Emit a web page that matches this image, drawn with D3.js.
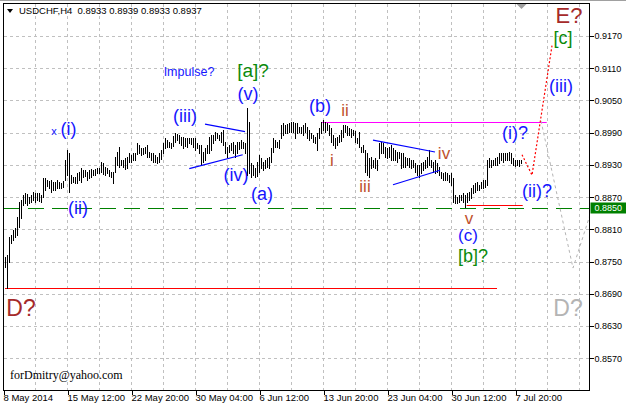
<!DOCTYPE html>
<html><head><meta charset="utf-8">
<script src="https://d3js.org/d3.v7.min.js"></script>
<style>body{margin:0;background:#fff}svg{display:block}</style>
</head><body><script>
// ---------- data ----------
const symbolTitle = "USDCHF,H4  0.8933 0.8939 0.8933 0.8937";
const firstBarIndex = 1;
const highs = [
0.8759,0.8762,0.8796,0.8800,0.8809,0.8813,0.8833,0.8861,0.8865,0.8874,
0.8878,0.8876,0.8870,0.8874,0.8880,0.8878,0.8878,0.8878,0.8874,0.8906,
0.8906,0.8902,0.8900,0.8902,0.8898,0.8898,0.8902,0.8898,0.8897,0.8900,
0.8939,0.8958,0.8952,0.8911,0.8908,0.8908,0.8915,0.8917,0.8924,0.8921,
0.8921,0.8917,0.8921,0.8923,0.8921,0.8923,0.8924,0.8924,0.8936,0.8934,
0.8926,0.8924,0.8921,0.8917,0.8917,0.8945,0.8954,0.8964,0.8939,0.8939,
0.8943,0.8945,0.8952,0.8949,0.8952,0.8952,0.8971,0.8967,0.8962,0.8962,
0.8964,0.8967,0.8954,0.8952,0.8952,0.8949,0.8945,0.8952,0.8958,0.8971,
0.8980,0.8977,0.8973,0.8971,0.8984,0.8990,0.8988,0.8986,0.8982,0.8982,
0.8980,0.8980,0.8980,0.8980,0.8980,0.8980,0.8971,0.8967,0.8967,0.8954,
0.8962,0.8967,0.8982,0.8986,0.8986,0.8992,0.8990,0.8986,0.8992,0.8995,
0.8973,0.8964,0.8967,0.8971,0.8973,0.8967,0.8973,0.8973,0.8977,0.8973,
0.8971,0.9036,0.9010,0.8934,0.8930,0.8924,0.8936,0.8949,0.8943,0.8936,
0.8939,0.8943,0.8945,0.8962,0.8980,0.8977,0.8973,0.8977,0.9005,0.9008,
0.9005,0.9006,0.9008,0.9010,0.9010,0.9008,0.9008,0.9001,0.9001,0.9005,
0.9008,0.9001,0.8995,0.8990,0.8986,0.8982,0.8990,0.8999,0.9010,0.9014,
0.9010,0.9008,0.9005,0.8999,0.8986,0.8980,0.8982,0.8986,0.8995,0.9005,
0.9005,0.9003,0.8999,0.8997,0.8995,0.8993,0.8980,0.8992,0.8964,0.8967,
0.8958,0.8952,0.8943,0.8945,0.8939,0.8943,0.8939,0.8971,0.8973,0.8971,
0.8964,0.8962,0.8964,0.8967,0.8962,0.8958,0.8954,0.8954,0.8952,0.8952,
0.8945,0.8943,0.8943,0.8939,0.8939,0.8934,0.8930,0.8930,0.8934,0.8936,
0.8939,0.8945,0.8958,0.8939,0.8936,0.8939,0.8934,0.8926,0.8917,0.8915,
0.8917,0.8915,0.8911,0.8915,0.8906,0.8874,0.8870,0.8874,0.8874,0.8878,
0.8874,0.8878,0.8880,0.8887,0.8893,0.8897,0.8898,0.8893,0.8898,0.8902,
0.8902,0.8939,0.8943,0.8939,0.8939,0.8943,0.8945,0.8952,0.8952,0.8952,
0.8952,0.8952,0.8954,0.8952,0.8943,0.8939,0.8939,0.8939,0.8939];
const lows = [
0.8740,0.8700,0.8750,0.8785,0.8790,0.8796,0.8800,0.8815,0.8831,0.8856,
0.8859,0.8856,0.8859,0.8861,0.8865,0.8861,0.8865,0.8863,0.8861,0.8870,
0.8884,0.8891,0.8887,0.8880,0.8884,0.8884,0.8887,0.8887,0.8887,0.8889,
0.8902,0.8911,0.8880,0.8897,0.8898,0.8897,0.8897,0.8902,0.8898,0.8908,
0.8910,0.8902,0.8906,0.8908,0.8911,0.8911,0.8915,0.8915,0.8917,0.8913,
0.8911,0.8915,0.8910,0.8908,0.8897,0.8917,0.8930,0.8926,0.8930,0.8926,
0.8923,0.8924,0.8936,0.8936,0.8939,0.8939,0.8951,0.8952,0.8949,0.8951,
0.8952,0.8945,0.8945,0.8939,0.8936,0.8936,0.8934,0.8936,0.8941,0.8952,
0.8962,0.8964,0.8964,0.8962,0.8965,0.8973,0.8977,0.8971,0.8967,0.8962,
0.8965,0.8964,0.8971,0.8969,0.8964,0.8958,0.8962,0.8952,0.8930,0.8936,
0.8939,0.8952,0.8952,0.8958,0.8971,0.8977,0.8980,0.8977,0.8973,0.8967,
0.8952,0.8945,0.8954,0.8958,0.8952,0.8945,0.8952,0.8960,0.8962,0.8962,
0.8952,0.8911,0.8915,0.8908,0.8911,0.8908,0.8910,0.8917,0.8924,0.8921,
0.8924,0.8926,0.8924,0.8936,0.8954,0.8964,0.8964,0.8962,0.8980,0.8986,
0.8990,0.8990,0.8992,0.8992,0.8992,0.8980,0.8990,0.8992,0.8990,0.8986,
0.8992,0.8980,0.8977,0.8980,0.8973,0.8971,0.8958,0.8980,0.8990,0.8995,
0.8992,0.8995,0.8986,0.8973,0.8967,0.8962,0.8967,0.8973,0.8975,0.8982,
0.8992,0.8986,0.8986,0.8982,0.8986,0.8973,0.8971,0.8964,0.8954,0.8954,
0.8917,0.8911,0.8908,0.8924,0.8926,0.8924,0.8921,0.8943,0.8952,0.8952,
0.8945,0.8943,0.8945,0.8939,0.8939,0.8939,0.8936,0.8943,0.8924,0.8926,
0.8926,0.8930,0.8926,0.8924,0.8926,0.8917,0.8911,0.8908,0.8915,0.8921,
0.8924,0.8926,0.8930,0.8926,0.8917,0.8915,0.8917,0.8911,0.8906,0.8902,
0.8902,0.8902,0.8898,0.8893,0.8861,0.8859,0.8859,0.8861,0.8865,0.8861,
0.8852,0.8861,0.8865,0.8869,0.8878,0.8880,0.8884,0.8884,0.8887,0.8887,
0.8889,0.8893,0.8926,0.8926,0.8930,0.8930,0.8930,0.8934,0.8939,0.8936,
0.8939,0.8939,0.8939,0.8934,0.8930,0.8928,0.8930,0.8928,0.8933];
const xTickIndex  = [0, 32, 64, 96, 128, 160, 192, 224, 256];
const xTickLabels = ["8 May 2014","15 May 12:00","22 May 20:00","30 May 04:00","6 Jun 12:00",
                     "13 Jun 20:00","23 Jun 04:00","30 Jun 12:00","7 Jul 20:00"];
const xGridIndex = d3.range(16, 289, 16);
const yTicks = [0.9170,0.9110,0.9050,0.8990,0.8930,0.8870,0.8810,0.8750,0.8690,0.8630,0.8570];
const currentLevel = 0.8850;
const lastBarIndex = 259;
// horizontal level segments: [price, fromIndex, toIndex, kind]
const levels = [
  [0.9010, 159.1, 271.6, "magenta"],
  [0.8856, 231.6, 259.6, "red"],
  [0.8700, 0.75, 246.75, "red"]
];
// channel / triangle lines: [[index, price], [index, price]]
const trendLines = [
  [[100.75, 0.9006], [120.75, 0.8992]],
  [[92.9, 0.8923], [119.6, 0.8949]],
  [[184.75, 0.8976], [215.75, 0.8954]],
  [[194.75, 0.8893], [218.25, 0.8920]]
];
const redPath  = [[259.25, 0.8949], [264.25, 0.8911], [274.25, 0.9152]];
const grayPath = [[268.75, 0.9012], [284.75, 0.8738], [293.5, 0.8840]];
// wave labels: [text, index, price, kind]
const labels = [
  ["x", 25.25, 0.8993, "tiny"],
  ["(i)", 32.5, 0.8997, "wave"],
  ["(ii)", 37.25, 0.8850, "wave"],
  ["Impulse?", 92.75, 0.9103, "note"],
  ["(iii)", 90.75, 0.9021, "wave"],
  ["[a]?", 124.75, 0.9105, "major"],
  ["(v)", 122.25, 0.9062, "wave"],
  ["(iv)", 116.25, 0.8911, "wave"],
  ["(a)", 129.25, 0.8876, "wave"],
  ["(b)", 158.25, 0.9040, "wave"],
  ["ii", 170.75, 0.9031, "minor"],
  ["i", 164.25, 0.8939, "minor"],
  ["iii", 180.75, 0.8889, "minor"],
  ["iv", 220.25, 0.8951, "minor"],
  ["v", 232.75, 0.8830, "minor"],
  ["(c)", 232.25, 0.8798, "waveS"],
  ["[b]?", 234.75, 0.8760, "majorS"],
  ["(i)?", 255.75, 0.8990, "wave"],
  ["(ii)?", 266.75, 0.8882, "wave"],
  ["(iii)", 278.75, 0.9077, "wave"],
  ["[c]", 279.75, 0.9166, "majorS"],
  ["E?", 282.75, 0.9209, "cycleS"],
  ["D?", 8.75, 0.8664, "cycle"],
  ["D?", 282.25, 0.8664, "ghost"]
];
const signature = "forDmitry@yahoo.com";

// ---------- styles ----------
const SANS = "'Liberation Sans', Arial, sans-serif";
const labelStyle = {
  tiny:   {color:"#1515ff", size:11},
  wave:   {color:"#1515ff", size:18},
  waveS:  {color:"#1515ff", size:17},
  note:   {color:"#1515ff", size:12.5},
  major:  {color:"#0a8a0a", size:19},
  majorS: {color:"#0a8a0a", size:18},
  minor:  {color:"#c0522d", size:17},
  cycle:  {color:"#a52a2a", size:23},
  cycleS: {color:"#a52a2a", size:22},
  ghost:  {color:"#b4b4b4", size:23}
};
const levelColor = {magenta:"#ff00ff", red:"#ff0000"};

// ---------- layout ----------
const W = 626, H = 408;
const L = 3.5, R = 589.5, T = 3.5, B = 390.5;
const svg = d3.select("body").append("svg").attr("width", W).attr("height", H)
  .style("font-family", SANS);
const x = d3.scaleLinear().domain([0, 256]).range([3.5, 515.5]);
const y = d3.scaleLinear().domain([0.8570, 0.9170]).range([358.3, 36]);

svg.append("defs").append("clipPath").attr("id","plotclip")
  .append("rect").attr("x", L).attr("y", T).attr("width", R-L).attr("height", B-T);

// window top edge
svg.append("line").attr("x1",0).attr("x2",W).attr("y1",0.5).attr("y2",0.5)
  .attr("stroke","#a0a0a0");

// grid
const grid = svg.append("g").attr("stroke","#c0c0c0").attr("stroke-dasharray","3,3")
  .attr("shape-rendering","crispEdges");
grid.selectAll(".vg").data(xGridIndex).join("line")
  .attr("x1", d=>x(d)).attr("x2", d=>x(d)).attr("y1", T).attr("y2", B);
grid.selectAll(".hg").data(yTicks).join("line")
  .attr("x1", L).attr("x2", R)
  .attr("y1", d=>Math.round(y(d))+0.5).attr("y2", d=>Math.round(y(d))+0.5);

const plot = svg.append("g").attr("clip-path","url(#plotclip)");

// current price dashed line
plot.append("line").attr("x1", L).attr("x2", R)
  .attr("y1", Math.round(y(currentLevel))+0.5).attr("y2", Math.round(y(currentLevel))+0.5)
  .attr("stroke","#008000").attr("stroke-dasharray","16,8").attr("shape-rendering","crispEdges");

// level segments
plot.selectAll(".lvl").data(levels).join("line")
  .attr("x1", d=>x(d[1])).attr("x2", d=>x(d[2]))
  .attr("y1", d=>Math.round(y(d[0]))+0.5).attr("y2", d=>Math.round(y(d[0]))+0.5)
  .attr("stroke", d=>levelColor[d[3]]).attr("stroke-width",1.2);

// bars
plot.append("g").selectAll("line").data(highs).join("line")
  .attr("x1", (d,k)=>x(k+firstBarIndex)).attr("x2", (d,k)=>x(k+firstBarIndex))
  .attr("y1", d=>Math.round(y(d)))
  .attr("y2", (d,k)=>Math.round(y(lows[k]))+1)
  .attr("stroke","#000").attr("stroke-width",1).attr("shape-rendering","crispEdges");

// triangle lines
const line = d3.line().x(d=>x(d[0])).y(d=>y(d[1]));
plot.selectAll(".tl").data(trendLines).join("path")
  .attr("d", line).attr("fill","none").attr("stroke","#0000ff").attr("stroke-width",1.2);

// projections
plot.append("path").attr("d", line(grayPath)).attr("fill","none")
  .attr("stroke","#b4b4b4").attr("stroke-dasharray","3,3");
plot.append("path").attr("d", line(redPath)).attr("fill","none")
  .attr("stroke","#ff0000").attr("stroke-width",1.2).attr("stroke-dasharray","2,2");

// labels
svg.append("g").selectAll("text").data(labels).join("text")
  .attr("x", d=>x(d[1])).attr("y", d=>y(d[2]))
  .attr("text-anchor","middle").attr("dominant-baseline","central")
  .attr("fill", d=>labelStyle[d[3]].color)
  .attr("font-size", d=>labelStyle[d[3]].size)
  .text(d=>d[0]);

// chart-shift marker
const sx = x(lastBarIndex);
svg.append("path").attr("d", `M${sx-5.5},3.5L${sx+5.5},3.5L${sx},9Z`).attr("fill","#a0a0a0");

// frame
svg.append("rect").attr("x", L).attr("y", T).attr("width", R-L).attr("height", B-T)
  .attr("fill","none").attr("stroke","#000").attr("shape-rendering","crispEdges");

// y axis
const yAxis = svg.append("g").attr("transform", `translate(${R},0)`)
  .call(d3.axisRight(y).tickValues(yTicks).tickSize(4).tickPadding(1).tickFormat(d3.format(".4f")));
yAxis.select(".domain").remove();
yAxis.selectAll("line").attr("stroke","#000").attr("shape-rendering","crispEdges");
yAxis.selectAll("text").attr("font-size", 9).attr("font-family", SANS).attr("fill","#000");

// x axis
const xAxis = svg.append("g").attr("transform", `translate(0,${B})`)
  .call(d3.axisBottom(x).tickValues(xTickIndex).tickSize(4).tickPadding(0)
    .tickFormat((d,i)=>xTickLabels[i]));
xAxis.select(".domain").remove();
xAxis.selectAll("line").attr("stroke","#000").attr("shape-rendering","crispEdges");
xAxis.selectAll("text").attr("text-anchor","start").attr("x", -0.5)
  .attr("font-size", 9.5).attr("font-family", SANS).attr("fill","#000");

// current price tag
const cy = Math.round(y(currentLevel));
svg.append("rect").attr("x", R+1).attr("y", cy-5.5).attr("width", W-R-1).attr("height", 11)
  .attr("fill","#008000");
svg.append("text").attr("x", R+5).attr("y", cy).attr("dominant-baseline","central")
  .attr("font-size", 9).attr("fill","#fff").text(d3.format(".4f")(currentLevel));

// title
svg.append("path").attr("d","M7,9L13,9L10,13Z").attr("fill","#000");
svg.append("text").attr("x", 19).attr("y", 13.5).attr("font-size", 9.5)
  .style("white-space","pre").attr("fill","#000").text(symbolTitle);

// signature
svg.append("text").attr("x", 10).attr("y", 379).attr("font-size", 12)
  .attr("font-family","'Liberation Serif', 'Times New Roman', serif").attr("fill","#000")
  .text(signature);
</script></body></html>
